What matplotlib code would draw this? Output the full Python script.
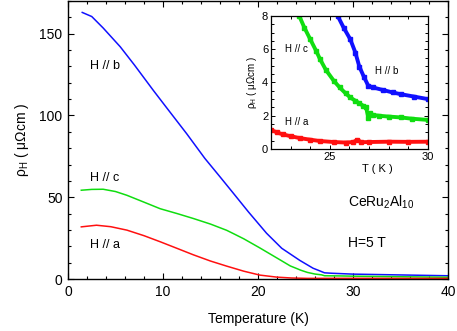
import matplotlib
matplotlib.use("Agg")
import matplotlib.pyplot as plt
from matplotlib.ticker import MultipleLocator

plt.rcParams['font.family'] = ['Liberation Sans', 'DejaVu Sans']
plt.rcParams['mathtext.fontset'] = 'custom'
plt.rcParams['mathtext.rm'] = 'Liberation Sans'
plt.rcParams['mathtext.it'] = 'Liberation Sans:italic'

# main panel data (temperature in K, rho_H in micro-ohm cm)
t_b = [1.5, 2.5, 3.7, 5.5, 7.0, 9.0, 10.4, 12.5, 14.4, 16.0, 17.4, 19.0, 20.9, 22.5, 24.4,
       25.8, 26.5, 27.0, 27.7, 30, 35, 40]
rho_b = [163, 160.5, 153.5, 142, 130.8, 115.2, 104.6, 88.8, 73.8, 62.5, 52.5, 41, 28, 18.8, 11.4,
         6.6, 5.0, 3.8, 3.55, 3.0, 2.5, 2.0]

t_c = [1.4, 2.5, 3.7, 5, 6.2, 8, 9.7, 11.5, 13.2, 15, 16.7, 17.4, 18.5, 20.2, 20.9, 22.3, 23.4,
       24.0, 24.5, 25.2, 26.0, 26.7, 27.0, 28.6, 30, 35, 40]
rho_c = [54.3, 54.8, 54.9, 53.5, 51.2, 47, 43, 40, 37, 33.6, 29.8, 27.8, 24.6, 19.0, 16.6, 11.8, 8.0,
         6.6, 5.4, 4.05, 3.05, 2.55, 2.0, 1.9, 1.75, 1.4, 1.1]

t_a = [1.4, 3.0, 4.5, 6.2, 8, 9.7, 11.5, 13.2, 15, 16.7, 18.5, 20.2, 22, 23.5, 25.2, 30, 35, 40]
rho_a = [31.9, 32.9, 32.0, 29.9, 26.5, 22.8, 18.7, 14.8, 11.0, 7.9, 4.8, 2.4, 1.15, 0.64, 0.4,
         0.44, 0.4, 0.4]

# inset data (22-30 K)
ti_b = [25.3, 25.4, 25.7, 26.04, 26.3, 26.5, 26.75, 26.96, 27.2, 27.7, 28.2, 28.6, 29.3, 30]
ri_b = [8.4, 8.0, 7.3, 6.6, 5.8, 4.96, 4.3, 3.8, 3.7, 3.55, 3.4, 3.3, 3.15, 3.0]

ti_c = [23.3, 23.44, 23.7, 24.0, 24.3, 24.5, 24.8, 25.2, 25.5, 25.8, 26.04, 26.3, 26.5, 26.7,
        26.85, 26.96, 27.05, 27.2, 27.5, 28, 28.6, 29.2, 30]
ri_c = [8.4, 8.0, 7.3, 6.6, 5.9, 5.4, 4.75, 4.1, 3.7, 3.35, 3.1, 2.9, 2.75, 2.6,
        2.5, 1.85, 2.15, 2.05, 2.0, 1.95, 1.9, 1.82, 1.75]

ti_a = [22, 22.3, 22.6, 23, 23.5, 24, 24.5, 25.2, 25.8, 26.2, 26.4, 26.6, 27, 28, 29, 30]
ri_a = [1.15, 1.0, 0.88, 0.77, 0.65, 0.56, 0.48, 0.42, 0.39, 0.42, 0.55, 0.41, 0.42, 0.44, 0.43, 0.44]

BLUE = '#1010ff'
GREEN = '#10dd10'
RED = '#ff1010'

fig = plt.figure(figsize=(4.57, 3.31), dpi=100)
ax = fig.add_axes([0.1488, 0.157, 0.8315, 0.840])

ax.plot(t_b, rho_b, color=BLUE, lw=1.1)
ax.plot(t_c, rho_c, color=GREEN, lw=1.1)
ax.plot(t_a, rho_a, color=RED, lw=1.1)

ax.set_xlim(0, 40)
ax.set_ylim(0, 170)
ax.xaxis.set_major_locator(MultipleLocator(10))
ax.xaxis.set_minor_locator(MultipleLocator(2))
ax.yaxis.set_major_locator(MultipleLocator(50))
ax.yaxis.set_minor_locator(MultipleLocator(10))
ax.tick_params(which='both', direction='in', top=True, right=True, labelsize=10, width=0.8)
ax.tick_params(which='major', length=4, pad=4)
ax.tick_params(which='minor', length=2.5)
for s in ax.spines.values():
    s.set_linewidth(1.0)

ax.set_xlabel('Temperature (K)', fontsize=10, labelpad=10)
ax.set_ylabel(r'ρ$_{\rm H}$ ( μΩcm )', fontsize=10, labelpad=6)

ax.text(2.3, 130, 'H // b', fontsize=9, va='center')
ax.text(2.3, 62, 'H // c', fontsize=9, va='center')
ax.text(2.3, 21, 'H // a', fontsize=9, va='center')
ax.text(29.5, 47, r'CeRu$_2$Al$_{10}$', fontsize=10, va='center')
ax.text(29.5, 22, 'H=5 T', fontsize=10, va='center')

# inset
ins = fig.add_axes([0.593, 0.5498, 0.3435, 0.402])
ins.plot(ti_b, ri_b, color=BLUE, lw=2.8, marker='s', ms=2.2)
ins.plot(ti_c, ri_c, color=GREEN, lw=2.8, marker='s', ms=2.2)
ins.plot(ti_a, ri_a, color=RED, lw=2.8, marker='s', ms=2.2)
ins.set_xlim(22, 30)
ins.set_ylim(0, 8)
ins.xaxis.set_major_locator(MultipleLocator(5))
ins.xaxis.set_minor_locator(MultipleLocator(1))
ins.yaxis.set_major_locator(MultipleLocator(2))
ins.yaxis.set_minor_locator(MultipleLocator(0.5))
ins.tick_params(which='both', direction='in', top=True, right=True, labelsize=8, width=0.7)
ins.tick_params(which='major', length=3, pad=2)
ins.tick_params(which='minor', length=2)
for s in ins.spines.values():
    s.set_linewidth(0.9)
ins.set_xlabel('T ( K )', fontsize=8)
ins.xaxis.set_label_coords(0.675, -0.11)
ins.set_ylabel(r'ρ$_{\rm H}$ ( μΩcm )', fontsize=7, labelpad=2)
ins.text(22.7, 6.0, 'H // c', fontsize=7, va='center')
ins.text(27.3, 4.7, 'H // b', fontsize=7, va='center')
ins.text(22.7, 1.6, 'H // a', fontsize=7, va='center')

fig.savefig('out.png', dpi=100)
